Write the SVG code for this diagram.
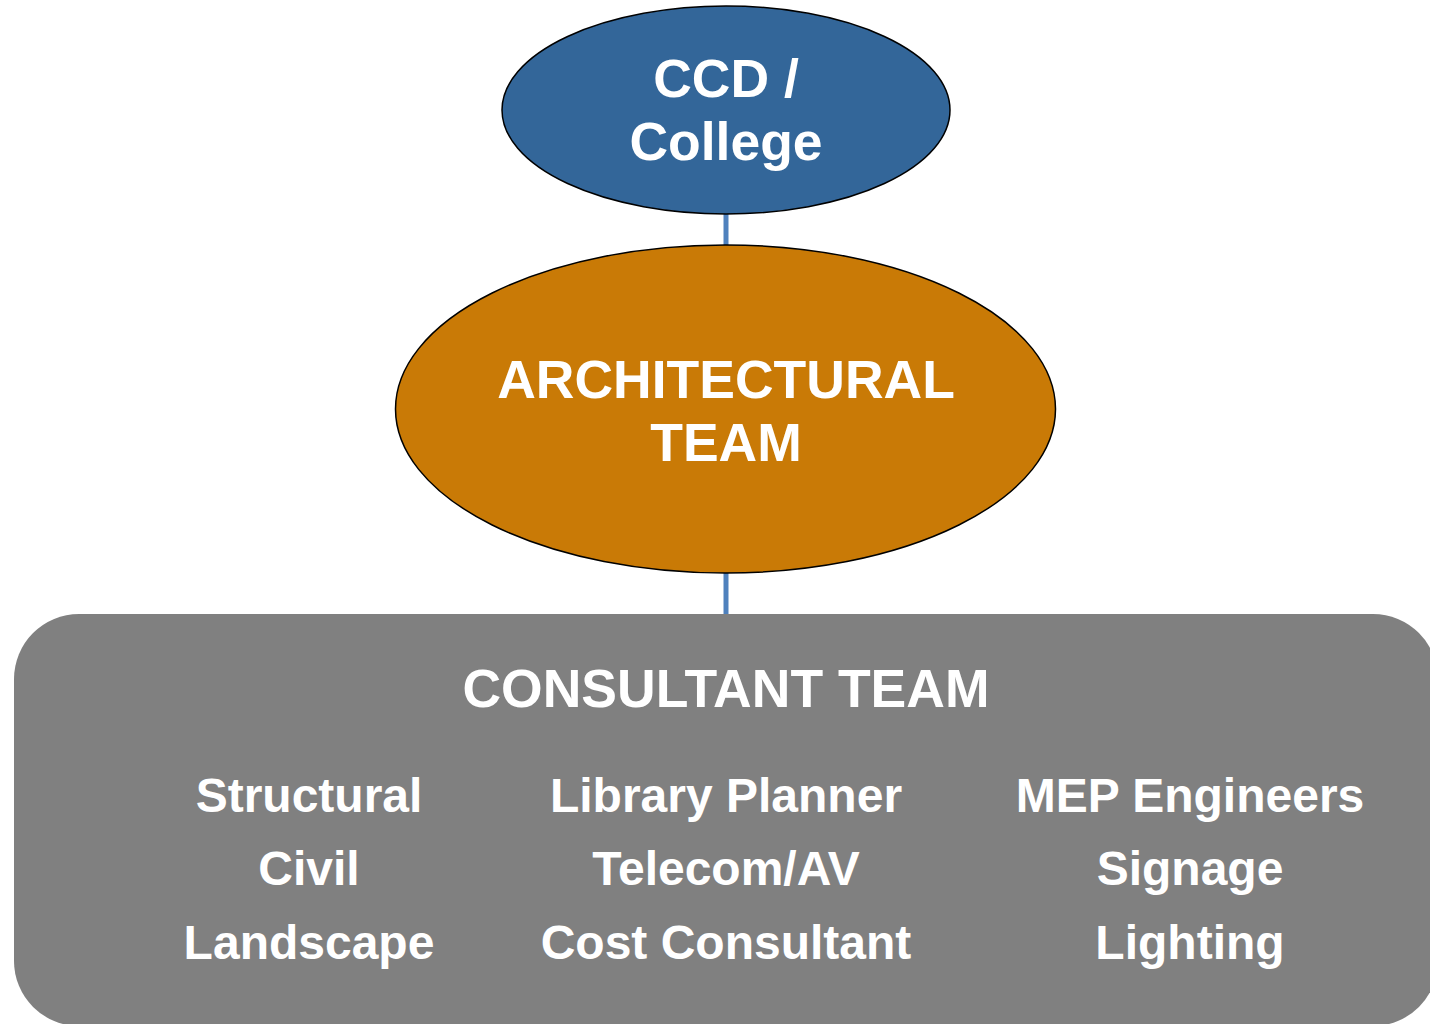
<svg xmlns="http://www.w3.org/2000/svg" width="1430" height="1024" viewBox="0 0 1430 1024">
<style>
text{font-family:"Liberation Sans",Arial,sans-serif;font-weight:bold;fill:#ffffff;text-anchor:middle}
.big{font-size:53.5px}
.item{font-size:48px}
.conn{stroke:#4F81BD;stroke-width:5;fill:none}
</style>
<rect width="1430" height="1024" fill="#ffffff"/>
<g id="connectors">
<line class="conn" x1="726" y1="212" x2="726" y2="247"/>
<line class="conn" x1="726" y1="572" x2="726" y2="616"/>
</g>
<g id="consultant-team">
<rect x="14" y="614" width="1424" height="412" rx="65" ry="65" fill="#808080"/>
<text class="big" x="726" y="707">CONSULTANT TEAM</text>
<text class="item" x="309" y="812">Structural</text>
<text class="item" x="309" y="885">Civil</text>
<text class="item" x="309" y="959">Landscape</text>
<text class="item" x="726" y="812">Library Planner</text>
<text class="item" x="726" y="885">Telecom/AV</text>
<text class="item" x="726" y="959">Cost Consultant</text>
<text class="item" x="1190" y="812">MEP Engineers</text>
<text class="item" x="1190" y="885">Signage</text>
<text class="item" x="1190" y="959">Lighting</text>
</g>
<g id="ccd-college">
<ellipse cx="726" cy="110" rx="224" ry="104" fill="#336699" stroke="#000000" stroke-width="1.5"/>
<text class="big" x="726" y="97">CCD /</text>
<text class="big" x="726" y="160">College</text>
</g>
<g id="architectural-team">
<ellipse cx="725.5" cy="409" rx="330" ry="164" fill="#C97A06" stroke="#000000" stroke-width="1.5"/>
<text class="big" x="726" y="398">ARCHITECTURAL</text>
<text class="big" x="726" y="461">TEAM</text>
</g>
</svg>
